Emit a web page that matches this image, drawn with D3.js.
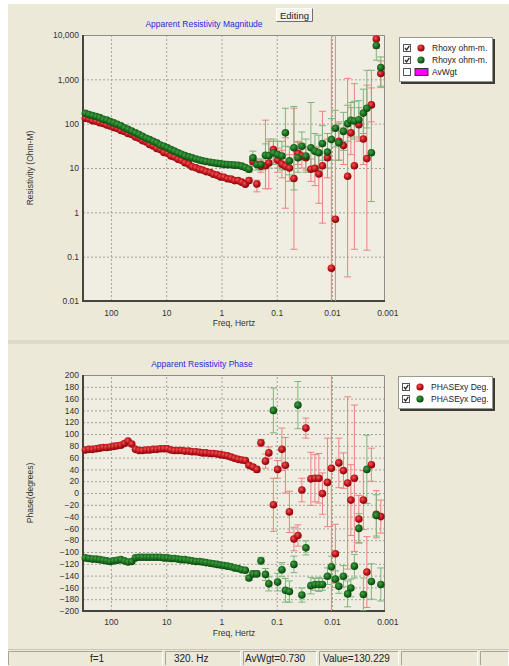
<!DOCTYPE html>
<html>
<head>
<meta charset="utf-8">
<script src="https://cdn.jsdelivr.net/npm/d3@7/dist/d3.min.js"></script>
<style>
  body { margin: 0; background: #fff; }
  text { font-family: Arial, "Liberation Sans", sans-serif; }
  .tick text { font-size: 8.5px; fill: #333; }
  .grid line { stroke: #a5a398; stroke-dasharray: 2,2; }
  .grid path, .axis path { display: none; }
</style>
</head>
<body>
<svg id="chart" width="509" height="666"></svg>
<script>

// sounding frequencies, Hz (first 46 = smooth part, last 33 carry error bars)
var freqs = [
  290, 250, 215, 185, 160, 138, 119, 103, 89, 77,
  66, 57, 49, 42, 36, 31, 27, 23, 20, 17.2,
  14.8, 12.8, 11, 9.5, 8.2, 7.1, 6.1, 5.3, 4.6, 3.9,
  3.4, 2.9, 2.5, 2.2, 1.9, 1.6, 1.4, 1.2, 1.04, 0.9,
  0.78, 0.67, 0.58, 0.5, 0.43, 0.37,
  0.318, 0.27, 0.229, 0.193, 0.16, 0.139, 0.115, 0.0964, 0.0806, 0.0697,
  0.059, 0.0489, 0.0414, 0.0351, 0.0297, 0.0241, 0.0204, 0.0173, 0.0149, 0.0121,
  0.01026, 0.00869, 0.00752, 0.00622, 0.00522, 0.00456, 0.00394, 0.00327, 0.00271, 0.00234,
  0.00194, 0.00158, 0.00131
];

// apparent resistivity, ohm-m
var rhoXY = [
  133, 127, 117, 113, 105, 101, 93, 89, 82, 78,
  70, 67, 60, 57, 50, 47, 41.5, 38.5, 34, 31.5,
  27.5, 26, 22.5, 21.5, 18.7, 17.8, 15.8, 14.9, 13.1, 12.2,
  10.7, 10.1, 9.3, 9, 8.3, 7.9, 7.2, 6.9, 6.3, 6.2,
  5.7, 5.6, 5.2, 5.2, 4.8, 4.3,
  5.2, 14, 4.35, 11, 11.2, 13, 26, 15, 12.2, 11,
  10, 5.8, 21.4, 18.7, 17, 9.4, 9.8, 7.3, 11.2, 17,
  0.055, 0.7, 40, 32, 6.5, 62, 11.2, 95, 45, 16.3,
  265, 8130, 1350
];
var rhoYX = [
  172, 160, 152, 145, 137, 126, 121, 111, 104, 97,
  90, 81, 75, 68, 62, 57, 52, 47, 44, 40,
  37, 33, 31, 28.5, 26, 24, 22, 20.5, 19, 17.8,
  17, 16, 15.2, 14.6, 14, 13.5, 13.1, 12.7, 12.4, 12.1,
  11.9, 11.8, 11.6, 11.5, 11, 10.3,
  9.4, 17, 12, 12, 19.3, 19, 22, 20, 18.7, 62,
  14.5, 28.6, 17, 31, 18.7, 28.6, 24, 22, 35.8, 23,
  44, 79, 37, 67, 100, 119, 115, 123, 173, 223,
  22, 5780, 1840
];

// error bar limits for the last 33 frequencies
var rhoXYlo = [4.5, 11, 2.9, 8, 3.4, 3.4, 15, 8, 6, 1.24, 5, 0.147, 12, 10, 9, 5, 4, 1.6, 0.57, 6,
  0.001, 0.001, 15, 12, 0.035, 20, 0.147, 40, 12, 0.14, 110, 5000, 650];
var rhoXYhi = [6, 18, 5.3, 15, 120, 45, 40, 28, 25, 48, 20, 223, 38, 35, 30, 16, 22, 30, 190, 45,
  50000, 30000, 110, 80, 1050, 230, 800, 230, 170, 740, 640, 12000, 2600];
var rhoYXlo = [8, 12, 9, 9, 11, 10, 12, 10, 9, 31, 7, 3.2, 8, 15, 8, 9, 10, 9, 15, 10,
  15, 30, 15, 25, 40, 50, 45, 50, 60, 80, 1.75, 2700, 700];
var rhoYXhi = [11, 24, 16, 16, 35, 40, 45, 40, 40, 223, 30, 244, 40, 65, 45, 300, 60, 55, 90, 60,
  130, 200, 100, 180, 260, 300, 320, 330, 600, 1600, 1600, 9000, 3200];

// phase, degrees
var phsXY = [
  73, 74, 74, 75, 76, 77, 77, 78, 79, 80,
  81, 84, 88, 83, 74, 72, 72, 73, 73, 74,
  74, 75, 75, 75, 73, 72, 72, 72, 71, 71,
  70, 70, 69, 68, 68, 67, 67, 66, 65, 64,
  63, 61, 59, 57, 56, 55,
  47, 44, 40, 85, 54, 68, -20, 40, 74, 47,
  -32, -78, -72, 5, 110, 24, 25, 25, -1, 18,
  42, -103, 51, 38, 17, -12, 25, -44, -12, -134,
  48, -36, -40
];
var phsYX = [
  -110, -111, -112, -112, -113, -114, -115, -116, -115, -114,
  -113, -115, -117, -116, -110, -109, -109, -109, -109, -109,
  -109, -109, -110, -110, -111, -111, -112, -113, -113, -114,
  -115, -116, -116, -117, -118, -119, -120, -121, -122, -123,
  -124, -125, -127, -128, -130, -131,
  -144, -137, -137, -115, -138, -154, 140, -151, -130, -165,
  -167, -121, 149, -173, -93, -157, -155, -155, -155, -141,
  -125, -146, -158, -141, -171, -161, -124, -60, -172, 40,
  -150, -38, -155
];
var phsXYerr = [4, 4, 5, 6, 12, 10, 45, 15, 36, 47, 35, 20, 18, 20, 17, 45, 40, 42, 35, 75,
  400, 50, 42, 30, 146, 60, 124, 40, 50, 60, 28, 40, 28];
var phsYXerr = [4, 5, 5, 6, 10, 12, 38, 15, 12, 20, 18, 14, 40, 12, 12, 14, 10, 12, 10, 14,
  18, 14, 12, 18, 22, 15, 20, 25, 28, 58, 30, 35, 28];

var freqTicks = [100, 10, 1, 0.1, 0.01, 0.001];
var rhoTicks = [10000, 1000, 100, 10, 1, 0.1, 0.01];
var phsTicks = [200, 180, 160, 140, 120, 100, 80, 60, 40, 20, 0, -20, -40, -60, -80, -100,
  -120, -140, -160, -180, -200];

var statusTexts = ["f=1", "320. Hz", "AvWgt=0.730", "Value=130.229", "", ""];


var svg = d3.select("#chart");
var defs = svg.append("defs");

// shaded balls for the markers
function ball(id, c0, c1, c2) {
  var g = defs.append("radialGradient").attr("id", id)
      .attr("cx", "40%").attr("cy", "38%").attr("r", "62%");
  g.append("stop").attr("offset", "0%").attr("stop-color", c0);
  g.append("stop").attr("offset", "55%").attr("stop-color", c1);
  g.append("stop").attr("offset", "100%").attr("stop-color", c2);
}
ball("ballRed", "#ea5a5a", "#c4141b", "#7e070b");
ball("ballGreen", "#45a045", "#1b7020", "#0a420c");

// window background
svg.append("rect").attr("width", 509).attr("height", 666).attr("fill", "#fff");
svg.append("rect").attr("x", 8).attr("y", 4).attr("width", 501).attr("height", 662).attr("fill", "#ece9d9");
svg.append("rect").attr("x", 8).attr("y", 340).attr("width", 501).attr("height", 4).attr("fill", "#dddacb");

var x = d3.scaleLog().domain([320, 0.0011]).range([83, 385]);
var nFlat = freqs.length - rhoXYlo.length;
var fmt = d3.format(",");

function panel(cfg) {
  var y = cfg.y,
      top = y.range()[1],
      bot = y.range()[0],
      g = svg.append("g");

  g.append("rect").attr("x", 83).attr("y", top).attr("width", 302).attr("height", bot - top)
      .attr("fill", "#f0eee3");

  defs.append("clipPath").attr("id", cfg.id + "Clip")
    .append("rect").attr("x", 83).attr("y", top).attr("width", 302).attr("height", bot - top);

  // dotted grid
  g.append("g").attr("class", "grid")
      .attr("transform", "translate(0," + bot + ")")
      .call(d3.axisBottom(x).tickValues(freqTicks.filter(function(f) { return f > 0.0011; }))
          .tickSize(-(bot - top)).tickFormat(""));
  g.append("g").attr("class", "grid")
      .attr("transform", "translate(83,0)")
      .call(d3.axisLeft(y).tickValues(cfg.ticks.slice(1, -1)).tickSize(-302).tickFormat(""));

  // tick labels
  g.append("g").attr("class", "axis")
      .attr("transform", "translate(83,0)")
      .call(d3.axisLeft(y).tickValues(cfg.ticks).tickFormat(fmt).tickSize(0).tickPadding(4));
  g.append("g").attr("class", "axis")
      .attr("transform", "translate(0," + bot + ")")
      .call(d3.axisBottom(x).tickValues(freqTicks).tickFormat(fmt).tickSize(0).tickPadding(cfg.xpad));

  // frame
  g.append("path").attr("d", "M83.5," + (top + 0.5) + "H384.5V" + bot)
      .attr("fill", "none").attr("stroke", "#8e8c84");
  g.append("path").attr("d", "M83," + top + "V" + bot + "H385")
      .attr("fill", "none").attr("stroke", "#45443f").attr("stroke-width", 2);

  // error bars
  var bars = g.append("g").attr("clip-path", "url(#" + cfg.id + "Clip)");
  cfg.series.forEach(function(s) {
    var rows = s.lo.map(function(lo, i) {
      return {f: freqs[nFlat + i], lo: lo, hi: s.hi[i]};
    });
    var eb = bars.append("g").attr("stroke", s.bar).attr("fill", "none");
    eb.selectAll("line.v").data(rows).enter().append("line")
        .attr("x1", function(d) { return x(d.f); })
        .attr("x2", function(d) { return x(d.f); })
        .attr("y1", function(d) { return y(d.lo); })
        .attr("y2", function(d) { return y(d.hi); });
    ["lo", "hi"].forEach(function(k) {
      eb.selectAll("line." + k).data(rows).enter().append("line")
          .attr("x1", function(d) { return x(d.f) - 3.5; })
          .attr("x2", function(d) { return x(d.f) + 3.5; })
          .attr("y1", function(d) { return y(d[k]); })
          .attr("y2", function(d) { return y(d[k]); });
    });
  });

  // markers
  cfg.series.forEach(function(s) {
    g.append("g").selectAll("circle").data(s.vals).enter().append("circle")
        .attr("cx", function(d, i) { return x(freqs[i]); })
        .attr("cy", function(d) { return y(d); })
        .attr("r", 3.8)
        .attr("fill", s.fill);
  });

  g.append("text").attr("x", cfg.titleX).attr("y", cfg.titleY).attr("text-anchor", "middle")
      .attr("font-size", 8.5).attr("fill", "#2a2ad6").text(cfg.title);
  g.append("text").attr("x", 234).attr("y", bot + cfg.xlabDy).attr("text-anchor", "middle")
      .attr("font-size", 8.5).attr("fill", "#333").text("Freq, Hertz");
  g.append("text").attr("transform", "translate(33," + cfg.ylabY + ")rotate(-90)")
      .attr("text-anchor", "middle").attr("font-size", 8.5).attr("fill", "#333").text(cfg.ylab);
}

var yRho = d3.scaleLog().domain([0.01, 10000]).range([301, 35]);
var yPhs = d3.scaleLinear().domain([-200, 200]).range([611, 375]);

panel({
  id: "rho", y: yRho, ticks: rhoTicks, xpad: 8.5, xlabDy: 25,
  title: "Apparent Resistivity Magnitude", titleX: 204, titleY: 27,
  ylab: "Resistivity (Ohm-M)", ylabY: 168,
  series: [
    {vals: rhoXY, lo: rhoXYlo, hi: rhoXYhi, fill: "url(#ballRed)", bar: "#ee8080"},
    {vals: rhoYX, lo: rhoYXlo, hi: rhoYXhi, fill: "url(#ballGreen)", bar: "#7cb67a"}
  ]
});

panel({
  id: "phs", y: yPhs, ticks: phsTicks, xpad: 8, xlabDy: 24.5,
  title: "Apparent Resistivity Phase", titleX: 202, titleY: 367,
  ylab: "Phase(degrees)", ylabY: 493,
  series: [
    {vals: phsXY, fill: "url(#ballRed)", bar: "#ee8080",
      lo: phsXYerr.map(function(e, i) { return phsXY[nFlat + i] - e; }),
      hi: phsXYerr.map(function(e, i) { return phsXY[nFlat + i] + e; })},
    {vals: phsYX, fill: "url(#ballGreen)", bar: "#7cb67a",
      lo: phsYXerr.map(function(e, i) { return phsYX[nFlat + i] - e; }),
      hi: phsYXerr.map(function(e, i) { return phsYX[nFlat + i] + e; })}
  ]
});

// legends
function legend(x0, y0, w, items) {
  var h = items.length * 12 + 9;
  var g = svg.append("g").attr("transform", "translate(" + x0 + "," + y0 + ")");
  g.append("rect").attr("x", 2).attr("y", 2).attr("width", w).attr("height", h).attr("fill", "#3c3b36");
  g.append("rect").attr("x", 0.5).attr("y", 0.5).attr("width", w - 1).attr("height", h - 1)
      .attr("fill", "#fff").attr("stroke", "#9a988e");
  var row = g.selectAll("g.row").data(items).enter().append("g")
      .attr("transform", function(d, i) { return "translate(0," + (11 + i * 12) + ")"; });
  row.append("rect").attr("x", 4.5).attr("y", -3.5).attr("width", 7).attr("height", 7)
      .attr("fill", "#fff").attr("stroke", "#555");
  row.filter(function(d) { return d.checked; }).append("path")
      .attr("d", "M6,0 L7.6,2 L10.3,-2.2").attr("fill", "none").attr("stroke", "#222").attr("stroke-width", 1.3);
  row.filter(function(d) { return d.ball; }).append("circle")
      .attr("cx", 22).attr("cy", 0).attr("r", 3.6).attr("fill", function(d) { return d.ball; });
  row.filter(function(d) { return d.swatch; }).append("rect")
      .attr("x", 16).attr("y", -3.5).attr("width", 13).attr("height", 7)
      .attr("fill", function(d) { return d.swatch; }).attr("stroke", "#333");
  row.append("text").attr("x", 33).attr("y", 3).attr("font-size", 8.5).attr("fill", "#222")
      .text(function(d) { return d.label; });
}

legend(399, 37, 94, [
  {label: "Rhoxy ohm-m.", ball: "url(#ballRed)", checked: true},
  {label: "Rhoyx ohm-m.", ball: "url(#ballGreen)", checked: true},
  {label: "AvWgt", swatch: "#ff00ff", checked: false}
]);
legend(398, 376, 95, [
  {label: "PHASExy Deg.", ball: "url(#ballRed)", checked: true},
  {label: "PHASEyx Deg.", ball: "url(#ballGreen)", checked: true}
]);

// "Editing" button
var btn = svg.append("g").attr("transform", "translate(276,8)");
btn.append("rect").attr("width", 37).attr("height", 14).attr("fill", "#f4f3ee");
btn.append("path").attr("d", "M0.5,13.5V0.5H36.5").attr("fill", "none").attr("stroke", "#fff");
btn.append("path").attr("d", "M0.5,13.5H36.5V0.5").attr("fill", "none").attr("stroke", "#6e6d66");
btn.append("text").attr("x", 18.5).attr("y", 10.5).attr("text-anchor", "middle")
    .attr("font-size", 9.5).attr("fill", "#222").text("Editing");

// status bar
var sb = svg.append("g");
sb.append("line").attr("x1", 8).attr("x2", 509).attr("y1", 649.5).attr("y2", 649.5).attr("stroke", "#c9c6b8");
var cells = [[8, 163, 90], [165, 241, 174], [243, 317, 245], [319, 399, 323], [401, 478, 405], [480, 509, 484]];
cells.forEach(function(c, i) {
  sb.append("path").attr("d", "M" + (c[0] + 0.5) + ",665V651.5H" + (c[1] - 0.5))
      .attr("fill", "none").attr("stroke", "#a9a698");
  sb.append("path").attr("d", "M" + (c[1] - 0.5) + ",651.5V665.5")
      .attr("fill", "none").attr("stroke", "#fff");
  sb.append("text").attr("x", c[2]).attr("y", 662).attr("font-size", 10).attr("fill", "#222")
      .text(statusTexts[i]);
});

</script>
</body>
</html>
